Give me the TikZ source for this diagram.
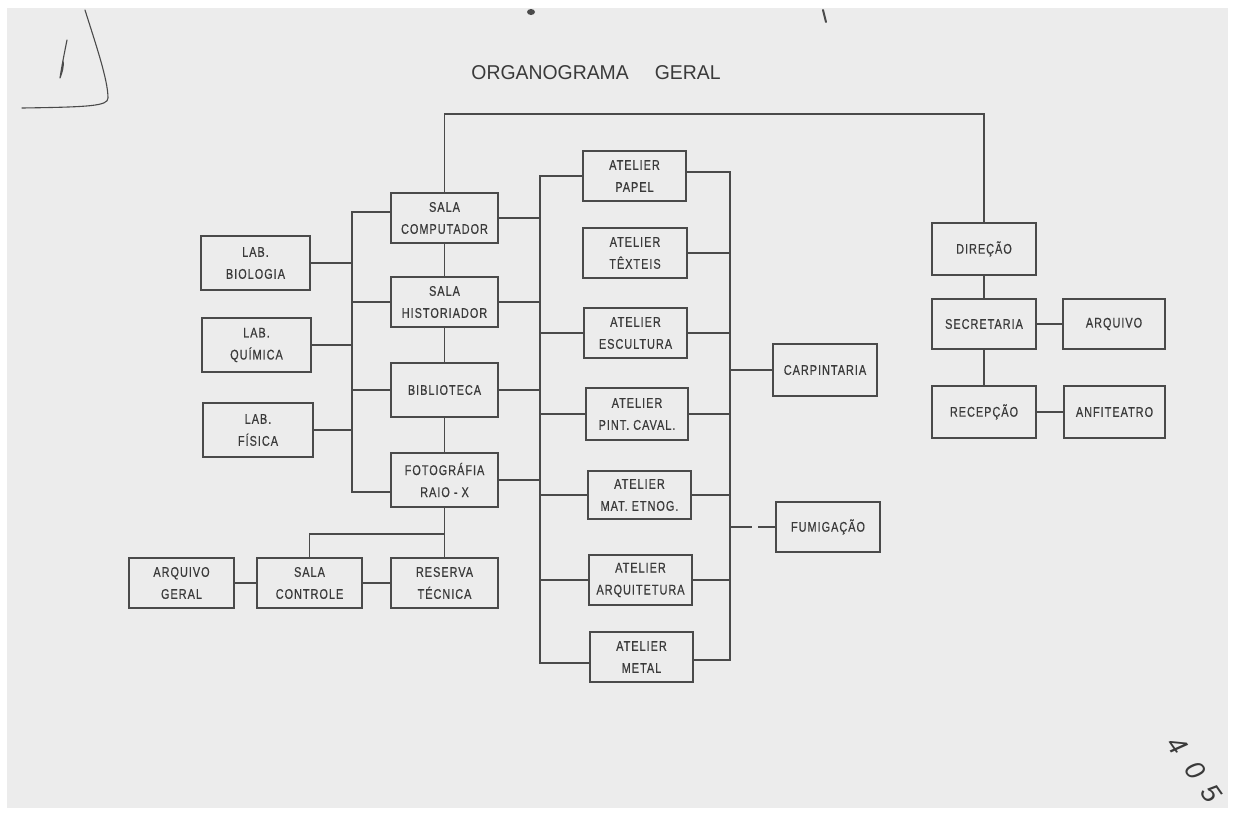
\documentclass[tikz,border=0pt]{standalone}
\usepackage{fontspec}
\setmainfont{Liberation Sans}[FakeStretch=0.78, LetterSpace=7, FakeBold=0.5]
\newfontfamily\titlefont{Liberation Sans}[FakeStretch=0.97]
\newfontfamily\handfont{Liberation Sans}
\definecolor{linec}{HTML}{4A4A4A}
\definecolor{textc}{HTML}{3A3A3A}
\definecolor{pagec}{HTML}{ECECEC}
\begin{document}
\begin{tikzpicture}[x=1pt,y=-1pt,
  box/.style={draw=linec, line width=1.6pt, inner sep=0pt, align=center, text=textc,
              font=\fontsize{14}{22}\selectfont},
  wire/.style={draw=linec, line width=1.6pt},
  hand/.style={draw=linec, line width=1.1pt, line cap=round, line join=round},
  digit/.style={rotate=-55, font=\handfont\itshape\fontsize{27}{27}\selectfont, text=textc, inner sep=0pt}]
\useasboundingbox (0,0) rectangle (1237,825);
\fill[white] (0,0) rectangle (1237,825);
\fill[pagec] (7,8) rectangle (1228,808);

% title
\node[font=\titlefont\fontsize{20}{20}\selectfont, text=textc] (title) at (596,73) {ORGANOGRAMA\hspace{26pt}GERAL};

% left column
\node[box, minimum width=107pt, minimum height=50pt] (sc)   at (444.5,218) {SALA\\COMPUTADOR};
\node[box, minimum width=107pt, minimum height=50pt] (sh)   at (444.5,302) {SALA\\HISTORIADOR};
\node[box, minimum width=107pt, minimum height=54pt] (bib)  at (444.5,390) {BIBLIOTECA};
\node[box, minimum width=107pt, minimum height=54pt] (foto) at (444.5,480) {FOTOGRÁFIA\\RAIO - X};
\node[box, minimum width=107pt, minimum height=50pt] (rt)   at (444.5,583) {RESERVA\\TÉCNICA};

\node[box, minimum width=109pt, minimum height=54pt] (lbio) at (255.5,263) {LAB.\\BIOLOGIA};
\node[box, minimum width=109pt, minimum height=54pt] (lqui) at (256.5,345) {LAB.\\QUÍMICA};
\node[box, minimum width=110pt, minimum height=54pt] (lfis) at (258,430) {LAB.\\FÍSICA};

\node[box, minimum width=105pt, minimum height=50pt] (ag)   at (181.5,583) {ARQUIVO\\GERAL};
\node[box, minimum width=105pt, minimum height=50pt] (sctl) at (309.5,583) {SALA\\CONTROLE};

% ateliers
\node[box, minimum width=103pt, minimum height=50pt] (apap) at (634.5,176) {ATELIER\\PAPEL};
\node[box, minimum width=104pt, minimum height=50pt] (atex) at (635,253) {ATELIER\\TÊXTEIS};
\node[box, minimum width=103pt, minimum height=50pt] (aesc) at (635.5,333) {ATELIER\\ESCULTURA};
\node[box, minimum width=102pt, minimum height=52pt] (apin) at (637,414) {ATELIER\\PINT. CAVAL.};
\node[box, minimum width=103pt, minimum height=48pt] (amat) at (639.5,495) {ATELIER\\MAT. ETNOG.};
\node[box, minimum width=103pt, minimum height=50pt] (aarq) at (640.5,580) {ATELIER\\ARQUITETURA};
\node[box, minimum width=103pt, minimum height=50pt] (amet) at (641.5,657) {ATELIER\\METAL};

\node[box, minimum width=104pt, minimum height=52pt] (carp) at (825,370) {CARPINTARIA};
\node[box, minimum width=104pt, minimum height=50pt] (fum)  at (828,527) {FUMIGAÇÃO};

% right group
\node[box, minimum width=104pt, minimum height=52pt] (dir) at (984,249) {DIREÇÃO};
\node[box, minimum width=104pt, minimum height=50pt] (sec) at (984,324) {SECRETARIA};
\node[box, minimum width=102pt, minimum height=50pt] (arq) at (1114,324) {ARQUIVO};
\node[box, minimum width=104pt, minimum height=52pt] (rec) at (984,412) {RECEPÇÃO};
\node[box, minimum width=101pt, minimum height=52pt] (anf) at (1114.5,412) {ANFITEATRO};

% top connector
\coordinate (tr) at (984,114);
\draw[wire] (sc.north) |- (tr) -- (dir.north);

% column chain
\draw[wire] (sc) -- (sh);
\draw[wire] (sh) -- (bib);
\draw[wire] (bib) -- (foto);
\draw[wire] (foto) -- (rt);
\coordinate (br) at (444.5,534);
\draw[wire] (sctl.north) |- (br);
\draw[wire] (ag) -- (sctl);
\draw[wire] (sctl) -- (rt);

% left bus
\coordinate (lbT) at (352,212);
\coordinate (lbB) at (352,492);
\draw[wire] (sc.west |- lbT) -- (lbT) -- (lbB) -- (foto.west |- lbB);
\draw[wire] (lbio.east) -- (lbio.east -| lbT);
\draw[wire] (sh.west) -- (sh.west -| lbT);
\draw[wire] (lqui.east) -- (lqui.east -| lbT);
\draw[wire] (bib.west) -- (bib.west -| lbT);
\draw[wire] (lfis.east) -- (lfis.east -| lbT);

% atelier left bus
\coordinate (abT) at (540,176);
\coordinate (abB) at (540,663);
\draw[wire] (apap.west) -- (abT) -- (abB) -- (amet.west |- abB);
\draw[wire] (sc.east) -- (sc.east -| abT);
\draw[wire] (sh.east) -- (sh.east -| abT);
\draw[wire] (bib.east) -- (bib.east -| abT);
\draw[wire] (foto.east) -- (foto.east -| abT);
\draw[wire] (aesc.west) -- (aesc.west -| abT);
\draw[wire] (apin.west) -- (apin.west -| abT);
\draw[wire] (amat.west) -- (amat.west -| abT);
\draw[wire] (aarq.west) -- (aarq.west -| abT);

% atelier right bus
\coordinate (rbT) at (730,172);
\coordinate (rbB) at (730,660);
\draw[wire] (apap.east |- rbT) -- (rbT) -- (rbB) -- (amet.east |- rbB);
\draw[wire] (atex.east) -- (atex.east -| rbT);
\draw[wire] (aesc.east) -- (aesc.east -| rbT);
\draw[wire] (apin.east) -- (apin.east -| rbT);
\draw[wire] (amat.east) -- (amat.east -| rbT);
\draw[wire] (aarq.east) -- (aarq.east -| rbT);
\draw[wire] (carp.west -| rbT) -- (carp.west);
\draw[wire, dash pattern=on 22pt off 6pt] (fum.west -| rbT) -- (fum.west);

% right group connectors
\draw[wire] (dir) -- (sec);
\draw[wire] (sec) -- (rec);
\draw[wire] (sec) -- (arq);
\draw[wire] (rec) -- (anf);

% handwritten marks of the scanned page
\draw[hand] (85,10) .. controls (96,45) and (108,80) .. (108,98) .. controls (108,106) and (90,107) .. (22,108);
\draw[hand] (67,40) .. controls (64,55) and (62,65) .. (60,78) .. controls (62,72) and (64,68) .. (63,60);
\node[digit] (d4) at (1177,745) {4};
\node[digit] (d0) at (1195,770) {0};
\node[digit] (d5) at (1211,793) {5};
\fill[linec] (531,12) ellipse (4pt and 3pt);
\draw[hand, line width=2pt] (823,10) -- (826,22);
\end{tikzpicture}
\end{document}
